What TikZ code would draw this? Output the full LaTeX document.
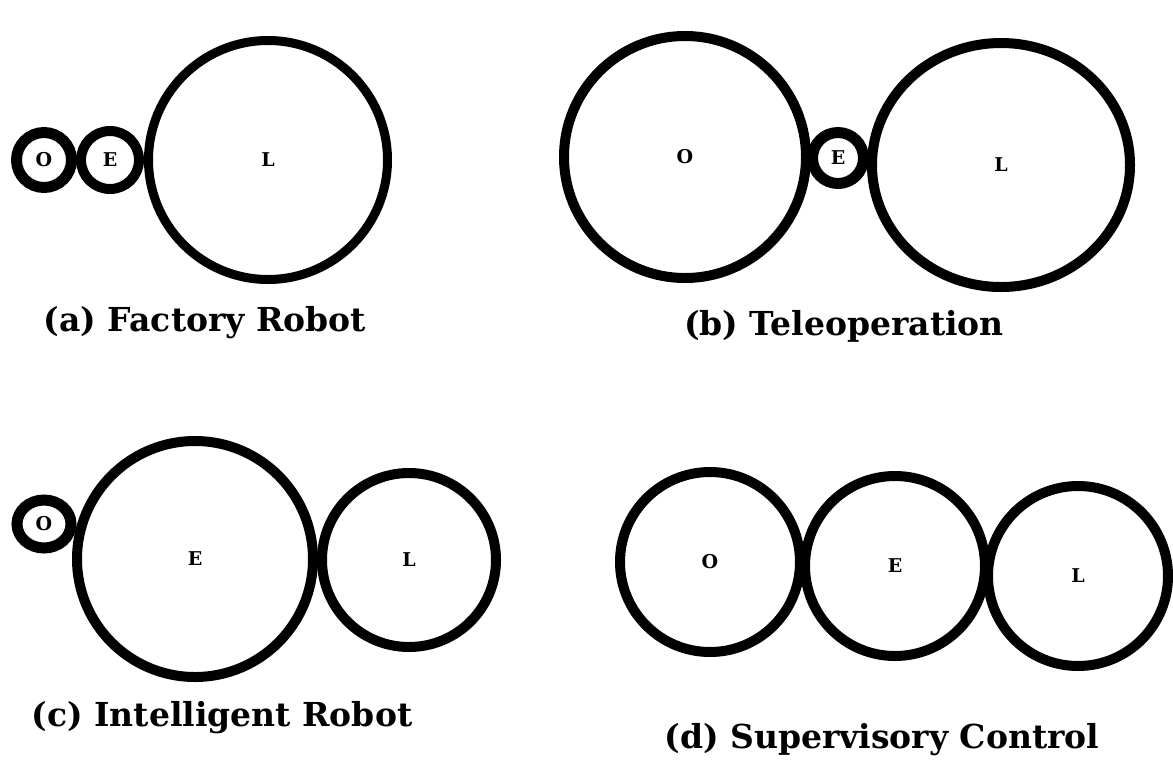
\documentclass[tikz,border=0pt]{standalone}
\usepackage{fontspec}
\setmainfont{DejaVu Serif}
\usetikzlibrary{shapes.geometric}
\begin{document}
\begin{tikzpicture}[x=1pt,y=-1pt,
  ring/.style={circle, draw=black, inner sep=0pt, font=\bfseries\fontsize{19}{19}\selectfont},
  oval/.style={ellipse, draw=black, inner sep=0pt, font=\bfseries\fontsize{19}{19}\selectfont},
  caption/.style={anchor=center, inner sep=0pt, font=\bfseries\fontsize{33}{33}\selectfont}]
\useasboundingbox (0,0) rectangle (1173,772);
% (a) Factory Robot
\node[ring, line width=11pt, minimum size=55pt] (aO) at (44,160) {O};
\node[ring, line width=10pt, minimum size=58pt] (aE) at (110,160) {E};
\node[ring, line width=9pt, minimum size=239pt] (aL) at (268,160) {L};
\node[caption] (capA) at (205,323) {(a) Factory Robot};
% (b) Teleoperation
\node[ring, line width=10pt, minimum size=242pt] (bO) at (685,157) {O};
\node[ring, line width=11pt, minimum size=51pt] (bE) at (838,158) {E};
\node[oval, line width=10pt, minimum width=258pt, minimum height=244pt] (bL) at (1001,165) {L};
\node[caption] (capB) at (844,326) {(b) Teleoperation};
% (c) Intelligent Robot
\node[oval, line width=11pt, minimum width=54pt, minimum height=48pt] (cO) at (44,524) {O};
\node[ring, line width=10pt, minimum size=236pt] (cE) at (195,559) {E};
\node[ring, line width=10pt, minimum size=174pt] (cL) at (409,560) {L};
\node[caption] (capC) at (222,718) {(c) Intelligent Robot};
% (d) Supervisory Control
\node[ring, line width=10pt, minimum size=180pt] (dO) at (710,562) {O};
\node[ring, line width=10pt, minimum size=180pt] (dE) at (895,566) {E};
\node[ring, line width=10pt, minimum size=180pt] (dL) at (1078,576) {L};
\node[caption] (capD) at (882,740) {(d) Supervisory Control};
\end{tikzpicture}
\end{document}
